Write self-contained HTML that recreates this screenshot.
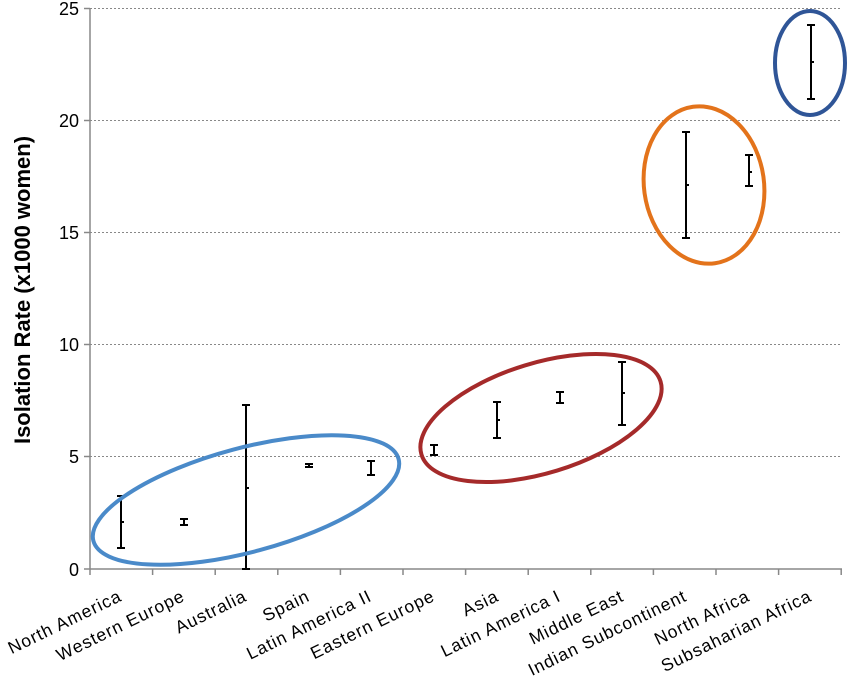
<!DOCTYPE html>
<html><head><meta charset="utf-8"><style>body{margin:0;background:#fff}svg{display:block}</style></head><body>
<svg width="850" height="687" xmlns="http://www.w3.org/2000/svg" font-family="Liberation Sans, sans-serif">
<g stroke="#888" stroke-width="1" stroke-dasharray="2,2">
<line x1="90" y1="8.5" x2="842" y2="8.5"/><line x1="90" y1="120.5" x2="842" y2="120.5"/><line x1="90" y1="232.5" x2="842" y2="232.5"/><line x1="90" y1="344.5" x2="842" y2="344.5"/><line x1="90" y1="456.5" x2="842" y2="456.5"/>
</g>
<g stroke="#888" stroke-width="1.5">
<line x1="90" y1="8" x2="90" y2="569"/><line x1="90" y1="569" x2="842" y2="569"/>
<line x1="84" y1="569" x2="90" y2="569"/><line x1="84" y1="456.5" x2="90" y2="456.5"/><line x1="84" y1="344.5" x2="90" y2="344.5"/><line x1="84" y1="232.5" x2="90" y2="232.5"/><line x1="84" y1="120.5" x2="90" y2="120.5"/><line x1="84" y1="8.5" x2="90" y2="8.5"/>
<path d="M90 569v6M152.6 569v6M215.2 569v6M277.8 569v6M340.4 569v6M403 569v6M465.6 569v6M528.2 569v6M590.8 569v6M653.4 569v6M716 569v6M778.6 569v6M841.2 569v6"/>
</g>
<g font-size="18" text-anchor="end" fill="#000">
<text x="79" y="576">0</text><text x="79" y="463">5</text><text x="79" y="351">10</text><text x="79" y="239">15</text><text x="79" y="127">20</text><text x="79" y="15">25</text>
</g>
<text transform="translate(30,290) rotate(-90)" text-anchor="middle" font-size="22" font-weight="bold">Isolation Rate (x1000 women)</text>
<g stroke="#000" stroke-width="2" fill="none">
<path d="M121 496v52M117 496h8M117 548h8M121 522h3"/>
<path d="M184 519v6M180 519h8M180 525h8"/>
<path d="M246 405v164M242 405h8M242 569h8M246 488h3"/>
<path d="M309 464v3M305 464h8M305 467h8"/>
<path d="M371 461v14M367 461h8M367 475h8"/>
<path d="M434 445v10M430 445h8M430 455h8"/>
<path d="M497 402v36M493 402h8M493 438h8M497 420h3"/>
<path d="M560 392v11M556 392h8M556 403h8"/>
<path d="M622 362v63M618 362h8M618 425h8M622 393h3"/>
<path d="M686 132v106M682 132h8M682 238h8M686 185h3"/>
<path d="M749 155v31M745 155h8M745 186h8M749 172h3"/>
<path d="M811 25v74M807 25h8M807 99h8M811 62h3"/>
</g>
<g fill="none" stroke-width="4">
<ellipse cx="246" cy="500" rx="158" ry="52" transform="rotate(-15 246 500)" stroke="#4a8ac9"/>
<ellipse cx="541" cy="418" rx="125" ry="55" transform="rotate(-17 541 418)" stroke="#a52a2a"/>
<ellipse cx="704" cy="185" rx="60" ry="79" transform="rotate(-8 704 185)" stroke="#e3731b"/>
<ellipse cx="810" cy="63" rx="35" ry="52" stroke="#2f5597"/>
</g>
<g font-size="17.5" letter-spacing="1" text-anchor="end" fill="#000">
<text transform="translate(123,600) rotate(-26)">North America</text>
<text transform="translate(186,600) rotate(-26)">Western Europe</text>
<text transform="translate(248,600) rotate(-26)">Australia</text>
<text transform="translate(311,600) rotate(-26)">Spain</text>
<text transform="translate(373,600) rotate(-26)">Latin America II</text>
<text transform="translate(436,600) rotate(-26)">Eastern Europe</text>
<text transform="translate(500,600) rotate(-26)">Asia</text>
<text transform="translate(562,600) rotate(-26)">Latin America I</text>
<text transform="translate(625,600) rotate(-26)">Middle East</text>
<text transform="translate(688,600) rotate(-26)">Indian Subcontinent</text>
<text transform="translate(751,600) rotate(-26)">North Africa</text>
<text transform="translate(813,600) rotate(-26)">Subsaharian Africa</text>
</g>
</svg>
</body></html>
